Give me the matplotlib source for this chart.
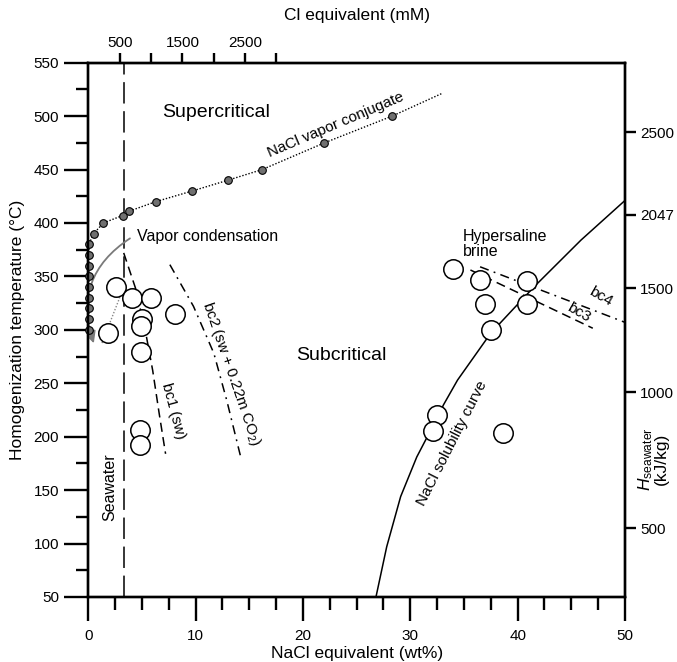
import matplotlib
matplotlib.use("Agg")
import matplotlib.pyplot as plt
from matplotlib.ticker import MultipleLocator
from matplotlib.patches import FancyArrowPatch

plt.rcParams['font.family'] = ['Liberation Sans', 'DejaVu Sans']
plt.rcParams['mathtext.fontset'] = 'custom'
plt.rcParams['mathtext.rm'] = 'Liberation Sans'
plt.rcParams['mathtext.it'] = 'Liberation Sans:italic'

# NaCl vapor conjugate (wt%, degC)
vap_x = [0.05, 0.05, 0.05, 0.05, 0.05, 0.05, 0.05, 0.05, 0.05, 0.5, 1.4, 3.2, 3.8, 6.3, 9.7, 13.0, 16.2, 22.0, 28.3]
vap_t = [300, 310, 320, 330, 340, 350, 360, 370, 380, 390, 400, 407, 411, 420, 430, 440, 450, 475, 500]
vap_end = (32.9, 521)

# fluid inclusions (open circles)
fi_x = [2.6, 1.8, 4.1, 5.8, 8.1, 5.0, 4.9, 4.9, 4.8, 4.8,
        34.0, 36.5, 40.9, 37.0, 40.9, 37.5, 32.5, 32.1, 38.6]
fi_t = [340, 297, 330, 330, 315, 310, 304, 279, 206, 192,
        357, 347, 346, 324, 324, 300, 220, 205, 203]

# halite solubility curve
sol_x = [26.8, 27.8, 29.1, 30.6, 32.0, 33.1, 34.4, 37.5, 41.5, 45.9, 50.1]
sol_t = [50, 97, 144, 181, 208, 230, 253, 297, 340, 384, 422]

# boiling curves
bc1_x = [3.3, 4.4, 5.3, 6.0, 6.6, 7.2]
bc1_t = [372, 339, 300, 262, 222, 184]
bc2_x = [7.6, 9.8, 11.7, 12.9, 14.2]
bc2_t = [361, 322, 278, 234, 181]
bc3_x = [35.6, 47.0]
bc3_t = [356, 301.5]
bc4_x = [36.5, 50.0]
bc4_t = [359, 307]

seawater_wt = 3.3

# top axis (Cl mM) and right axis (seawater enthalpy)
cl_ticks = [500, 1000, 1500, 2000, 2500, 3000]
cl_labels = ['500', '', '1500', '', '2500', '']
h_pos = [484.9, 407.5, 338.9, 241.6, 114.3]
h_labels = ['2500', '2047', '1500', '1000', '500']

fig = plt.figure(figsize=(6.77, 6.62), dpi=100)
ax = fig.add_axes([0.1304, 0.0982, 0.7928, 0.8071])
ax.set_xlim(0, 50)
ax.set_ylim(50, 550)

ax.axvline(seawater_wt, color='black', lw=1.1, dashes=(14, 5))

ax.plot(list(vap_x) + [vap_end[0]], list(vap_t) + [vap_end[1]], color='black', lw=1.0, ls=(0, (1, 1.3)), zorder=3)
ax.plot(vap_x, vap_t, 'o', ms=5.5, mfc='#707070', mec='black', mew=0.8, zorder=6, clip_on=False)

ax.plot(sol_x, sol_t, color='black', lw=1.1, zorder=2)
ax.plot(bc1_x, bc1_t, color='black', lw=1.1, dashes=(6, 3.5))
ax.plot(bc2_x, bc2_t, color='black', lw=1.1, dashes=(6, 3.5, 1.2, 3.5))
ax.plot(bc3_x, bc3_t, color='black', lw=1.1, dashes=(6, 3.5))
ax.plot(bc4_x, bc4_t, color='black', lw=1.1, dashes=(6, 3.5, 1.2, 3.5))

# vapor condensation path
ax.plot([3.27, 1.25], [339, 287], color='#888888', lw=1.0, ls=(0, (1, 1.3)), zorder=3)
arr = FancyArrowPatch((4.1, 387), (0.6, 285), connectionstyle='arc3,rad=0.4',
                      arrowstyle='-|>,head_length=7,head_width=3.5', color='#7a7a7a', lw=1.3, zorder=3)
ax.add_patch(arr)

ax.plot(fi_x, fi_t, 'o', ms=14, mfc='white', mec='black', mew=1.1, zorder=5)

# text
ax.text(11.9, 503, 'Supercritical', fontsize=14, ha='center', va='center')
ax.text(23.6, 276, 'Subcritical', fontsize=14, ha='center', va='center')
ax.text(23.1, 491.6, 'NaCl vapor conjugate', fontsize=11, ha='center', va='center', rotation=23)
ax.text(4.55, 387, 'Vapor condensation', fontsize=11.5, ha='left', va='center')
ax.text(34.9, 380, 'Hypersaline\nbrine', fontsize=11.5, ha='left', va='center', linespacing=1.0)
ax.text(7.9, 224, 'bc1 (sw)', fontsize=11, ha='center', va='center', rotation=-75)
ax.text(13.3, 259, 'bc2 (sw + 0.22m CO$_2$)', fontsize=11, ha='center', va='center', rotation=-71)
ax.text(47.7, 331, 'bc4', fontsize=11, ha='center', va='center', rotation=-30)
ax.text(45.7, 316, 'bc3', fontsize=11, ha='center', va='center', rotation=-30)
ax.text(33.9, 194, 'NaCl solubility curve', fontsize=11, ha='center', va='center', rotation=63)
ax.text(2.0, 153, 'Seawater', fontsize=11.5, ha='center', va='center', rotation=90)

# axes styling
for s in ax.spines.values():
    s.set_linewidth(1.7)
ax.xaxis.set_major_locator(MultipleLocator(10))
ax.xaxis.set_minor_locator(MultipleLocator(2.5))
ax.yaxis.set_major_locator(MultipleLocator(50))
ax.yaxis.set_minor_locator(MultipleLocator(25))
ax.tick_params(which='major', length=17, width=1.7, labelsize=11, pad=4)
ax.tick_params(which='minor', length=9, width=1.7)
ax.tick_params(axis='x', which='major', pad=6)
ax.set_xlabel('NaCl equivalent (wt%)', fontsize=12.5, labelpad=2)
ax.set_ylabel('Homogenization temperature (°C)', fontsize=12.5, labelpad=6)

sec = ax.secondary_xaxis('top', functions=(lambda w: w / 0.005844, lambda m: m * 0.005844))
sec.set_xticks(cl_ticks)
sec.set_xticklabels(cl_labels)
sec.tick_params(length=7, width=1.7, labelsize=11, pad=2)
sec.set_xlabel('Cl equivalent (mM)', fontsize=12.5, labelpad=12)

ax2 = ax.twinx()
ax2.set_ylim(50, 550)
ax2.set_yticks(h_pos)
ax2.set_yticklabels(h_labels)
ax2.tick_params(length=8, width=1.7, labelsize=11, pad=3)
for s in ax2.spines.values():
    s.set_linewidth(1.7)
ax2.text(1.052, 0.258, r'$H_{\mathrm{seawater}}$' + '\n(kJ/kg)', transform=ax.transAxes,
         fontsize=12.5, rotation=90, ha='center', va='center', multialignment='center', linespacing=0.9)

fig.savefig('out.png', dpi=100)
